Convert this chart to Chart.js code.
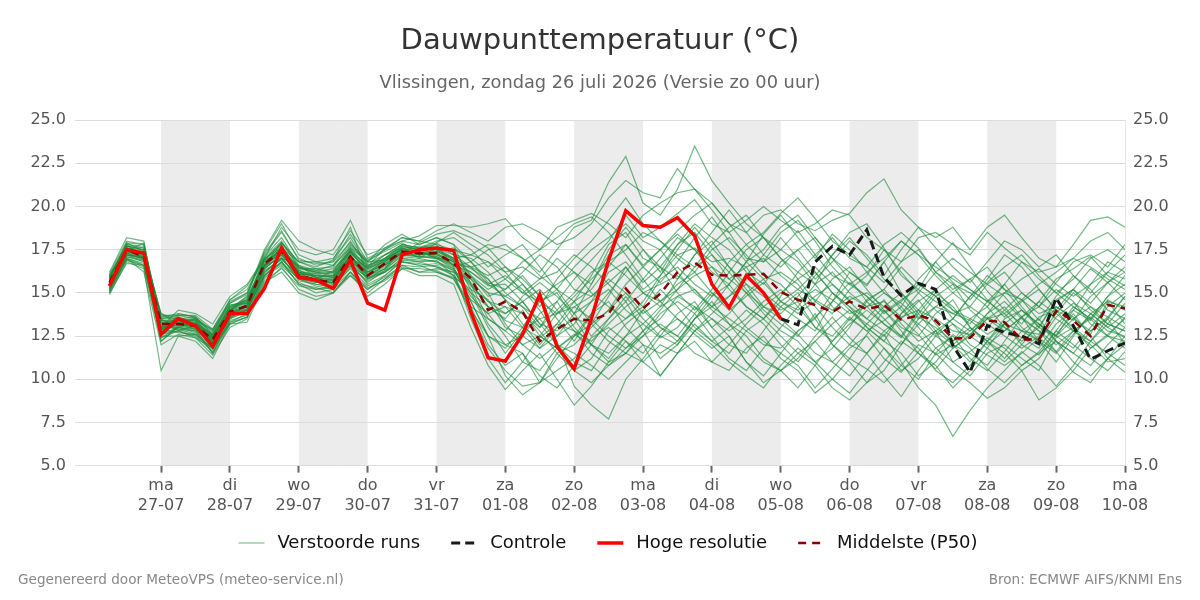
<!DOCTYPE html>
<html lang="nl">
<head>
<meta charset="utf-8">
<title>Dauwpunttemperatuur</title>
<script src="https://cdn.jsdelivr.net/npm/chart.js@4.4.1/dist/chart.umd.min.js"></script>
<style>
  html, body { margin: 0; padding: 0; background: #fff; }
  #wrap { position: relative; width: 1200px; height: 600px; }
</style>
</head>
<body>
<div id="wrap"><canvas id="dewChart"></canvas></div>
<script>
// tijdas in uren vanaf ma 27-07 00:00, een waarde per 6 uur
const firstHour = -18;
const stepHours = 6;
const axisMin = -30;
const axisMax = 336;

const dayNames = ["ma", "di", "wo", "do", "vr", "za", "zo", "ma", "di", "wo", "do", "vr", "za", "zo", "ma"];
const dayDates = ["27-07", "28-07", "29-07", "30-07", "31-07", "01-08", "02-08", "03-08", "04-08", "05-08", "06-08", "07-08", "08-08", "09-08", "10-08"];
const shadedDays = [0, 2, 4, 6, 8, 10, 12];

const hiresRun = [
  15.4, 17.5, 17.3, 12.6, 13.5, 13.1, 11.9, 13.8, 13.8, 15.25,
  17.6, 15.9, 15.75, 15.25, 16.9, 14.4, 14.0, 17.2, 17.5, 17.6,
  17.45, 13.9, 11.25, 11.05, 12.6, 14.9, 11.9, 10.6, 13.5, 16.9,
  19.75, 18.9, 18.8, 19.35, 18.3, 15.5, 14.15, 16.0, 15.0, 13.5
];

// controle-run is pas zichtbaar waar de hoge resolutie stopt
const controlStart = 39;
const controlRun = [
  13.5, 13.15, 16.8, 17.7, 17.2, 18.65, 15.9, 14.85, 15.55, 15.2,
  11.95, 10.4, 13.1, 12.7, 12.5, 12.05, 14.7, 13.1, 11.15, 11.65, 12.1
];

const medianRun = [
  15.6, 17.5, 17.1, 13.2, 13.2, 13.1, 12.3, 13.9, 14.25, 16.7,
  17.4, 16.0, 15.75, 15.6, 17.1, 16.0, 16.7, 17.4, 17.3, 17.3,
  16.7, 15.85, 14.0, 14.5, 13.9, 12.2, 12.9, 13.5, 13.4, 13.8,
  15.25, 14.1, 14.95, 16.2, 16.75, 16.05, 16.0, 16.05, 16.1, 15.05,
  14.6, 14.3, 13.9, 14.5, 14.05, 14.3, 13.45, 13.7, 13.4, 12.35,
  12.4, 13.4, 13.3, 12.3, 12.3, 13.95, 13.4, 12.5, 14.3, 14.1
];

const run01 = [15.9,17.8,17.6,12.8,13.5,13.4,12.0,14.2,14.6,17.0, 18.0,16.5,16.2,16.0,17.6,16.4,17.2,17.8,17.6,17.9, 17.2,17.0,16.2,15.0,14.2,13.0,14.5,15.8,16.9,18.0, 19.5,18.2,18.8,19.6,20.4,19.0,18.5,17.0,16.8,17.5, 18.6,17.2,16.0,15.5,14.8,13.9,14.6,15.2,16.8,17.9, 16.5,15.1,14.0,13.2,14.5,15.8,16.4,17.1,16.0,15.4];
const run02 = [15.2,17.2,16.8,13.5,12.9,12.6,11.8,13.5,14.0,16.2, 17.0,15.8,15.4,15.2,16.8,15.5,16.0,16.9,16.8,16.5, 16.0,14.2,12.0,10.8,11.5,9.8,10.5,11.2,12.4,13.0, 12.2,11.5,12.8,13.5,12.6,11.8,12.5,11.0,10.2,11.5, 10.8,9.5,10.6,11.8,12.5,11.2,10.4,11.6,12.8,11.0, 10.2,11.5,12.0,11.2,10.5,12.4,13.0,11.8,12.6,13.5];
const run03 = [15.7,17.6,17.3,13.0,13.0,13.3,12.5,14.0,14.4,16.9, 17.8,16.0,15.8,16.3,17.4,16.6,17.0,17.5,17.0,17.6, 17.0,16.5,15.5,16.0,15.2,14.0,12.5,13.8,15.5,17.5, 18.8,17.5,16.2,17.8,18.5,17.2,15.8,16.5,15.0,14.2, 13.5,12.8,14.5,16.2,15.4,16.8,15.0,13.8,12.6,13.5, 14.8,16.0,15.2,14.0,13.2,12.5,14.0,15.5,16.8,16.2];
const run04 = [16.1,18.0,17.8,12.5,13.8,13.6,12.8,14.4,15.0,17.2, 18.5,17.0,16.6,16.8,18.4,16.8,17.5,18.0,17.8,18.2, 17.8,15.5,13.5,12.8,14.0,12.5,11.8,12.5,13.2,14.8, 16.5,15.0,14.2,15.8,17.2,18.0,16.5,15.2,14.0,13.2, 12.5,13.8,12.0,11.2,12.6,14.0,12.8,11.5,10.8,9.5, 10.5,11.8,13.2,12.0,11.4,12.8,14.2,13.5,14.8,15.5];
const run05 = [15.4,17.3,17.0,13.3,13.4,13.0,12.2,13.7,14.1,16.4, 17.2,16.3,15.9,15.5,16.8,16.2,16.8,17.6,17.4,17.0, 16.5,16.8,17.5,17.8,17.0,16.2,17.5,18.8,19.2,21.4, 22.9,20.2,19.5,21.0,23.5,21.5,20.2,19.0,18.2,17.5, 16.8,15.5,17.2,18.5,19.0,17.6,16.0,15.2,14.5,13.8, 14.2,15.5,16.2,15.0,14.2,15.6,16.8,17.2,16.5,17.8];
const run06 = [15.0,16.9,16.5,12.2,13.0,12.8,11.5,13.2,13.6,15.8, 16.8,15.5,15.0,15.2,16.0,15.0,15.8,16.5,16.2,16.4, 16.2,13.5,11.2,9.8,11.0,12.5,11.8,10.5,11.2,12.8, 13.5,14.2,13.0,12.5,13.8,15.0,14.2,13.0,12.2,11.5, 12.8,13.5,15.0,14.2,13.0,12.2,13.8,14.6,13.2,12.0, 11.5,10.8,12.2,13.6,12.8,11.6,10.4,9.8,11.2,12.5];
const run07 = [15.8,17.9,17.4,13.6,13.6,13.2,12.6,14.1,14.8,17.4, 19.0,17.2,16.8,17.0,18.2,16.6,16.9,17.3,17.9,18.4, 18.6,18.2,17.6,16.5,15.5,14.2,15.8,17.0,18.0,19.2, 20.5,19.0,18.0,17.2,16.5,17.8,18.8,19.5,18.2,17.0, 15.8,14.5,13.8,15.2,16.0,17.5,16.2,15.0,14.0,13.2, 12.5,13.8,15.0,14.6,13.4,14.8,16.0,15.2,14.0,13.5];
const run08 = [15.5,17.4,17.2,13.2,13.1,12.9,12.0,13.6,14.0,16.0, 17.0,15.9,15.6,15.8,17.0,15.8,16.2,17.0,16.8,16.9, 16.0,15.0,13.0,11.5,12.8,13.5,12.2,9.6,8.5,7.7, 10.0,11.2,12.5,13.8,14.5,13.0,12.0,11.5,12.8,14.2, 15.0,13.5,12.0,11.0,9.8,10.5,12.0,13.2,12.5,11.8, 12.6,13.5,14.2,13.0,12.2,11.0,12.5,13.8,14.5,13.2];
const run09 = [16.0,17.7,17.5,12.9,13.3,13.5,12.7,14.3,14.5,16.6, 17.6,16.4,16.4,16.5,17.8,16.9,17.4,17.9,17.2,17.4, 17.6,16.8,15.8,14.6,13.2,12.0,13.2,14.5,15.2,16.5, 17.8,16.5,15.6,16.8,18.2,19.4,18.0,16.8,17.5,18.8, 19.5,18.2,17.0,16.2,15.5,16.8,18.0,17.2,16.0,15.0, 14.2,13.5,12.8,13.6,14.5,13.8,13.0,12.2,13.5,14.8];
const run10 = [15.3,17.1,16.9,13.4,13.2,13.1,12.4,13.8,14.2,16.3, 16.9,16.1,16.0,15.9,17.2,16.0,16.6,17.3,17.4,17.1, 16.6,15.4,14.5,14.2,13.8,12.8,11.5,12.0,13.0,14.0, 15.0,13.8,14.5,15.5,16.2,15.0,14.0,14.8,15.6,14.5, 14.0,14.8,15.5,14.5,13.5,14.6,13.2,12.2,12.8,13.5, 12.8,13.6,13.0,12.4,11.8,13.2,14.0,13.4,14.6,14.0];
const run11 = [15.6,17.5,17.0,12.6,13.0,12.7,11.9,13.9,14.3,16.8, 17.5,16.0,15.8,15.6,17.3,16.4,17.0,17.7,17.5,17.3, 16.8,15.6,14.2,13.5,14.8,15.6,14.8,13.8,14.5,16.2, 16.8,15.6,16.5,17.8,19.0,18.2,17.5,16.2,15.5,16.8, 17.5,16.2,15.0,14.2,13.5,12.8,12.0,13.5,14.8,15.5, 14.0,13.2,12.5,11.8,12.5,13.8,15.0,14.2,13.6,13.0];
const run12 = [14.9,16.8,16.4,10.5,12.5,12.2,11.2,13.2,13.3,15.5, 16.5,15.2,14.8,15.0,16.2,15.2,16.0,16.8,16.6,16.2, 15.8,14.0,12.5,12.0,11.5,10.2,9.5,10.8,12.0,13.5, 14.5,12.8,13.5,14.8,15.2,14.0,13.2,12.5,11.2,10.5, 11.5,12.2,11.0,10.2,11.5,12.6,11.0,9.5,8.5,6.7, 8.2,9.5,10.5,11.6,10.8,9.6,10.8,12.2,11.5,10.8];
const run13 = [15.6,17.6,17.3,13.8,13.4,13.4,12.9,14.6,15.2,16.9, 17.9,16.8,16.4,16.2,17.5,16.5,17.6,18.2,18.0,17.8, 17.5,17.2,16.8,15.8,15.0,14.5,15.2,16.5,17.5,18.2, 19.0,18.0,17.5,18.6,19.5,20.2,19.0,17.8,18.5,19.6, 20.5,19.3,18.0,17.2,16.5,15.6,16.8,17.5,16.2,15.5, 15.0,14.2,15.5,16.8,15.8,15.0,14.2,13.5,14.8,16.0];
const run14 = [15.2,17.0,16.6,12.4,12.8,12.5,11.6,13.3,13.8,16.1, 17.1,15.7,15.5,15.4,16.6,15.6,16.3,16.8,16.6,16.7, 16.3,14.8,13.8,12.5,11.0,10.5,11.8,12.6,12.0,11.5, 12.5,13.2,12.4,13.0,14.2,13.5,12.8,13.5,14.5,15.2, 14.2,13.0,12.5,13.6,12.8,13.4,14.2,13.0,11.8,11.0, 11.6,12.4,11.8,10.8,11.5,12.2,11.0,10.2,11.2,12.0];
const run15 = [15.9,17.6,17.5,13.1,13.6,13.3,12.1,14.0,14.5,17.1, 18.2,16.6,16.3,16.6,18.0,16.5,16.8,17.6,17.7,17.7, 17.4,16.0,14.8,15.2,16.2,17.2,16.5,15.2,14.8,15.8, 15.0,14.2,15.8,16.5,15.5,14.8,16.2,17.5,18.2,17.0, 16.2,15.5,14.2,13.4,14.6,15.2,14.0,13.2,14.2,15.0, 15.8,16.5,15.2,14.6,13.8,14.2,13.5,12.8,13.6,14.8];
const run16 = [15.4,17.3,17.0,13.5,13.5,13.2,12.5,14.2,14.6,16.6, 17.3,16.2,15.9,16.0,17.1,16.2,16.9,17.5,17.3,17.4, 16.9,15.2,13.2,12.0,12.5,11.8,13.0,14.2,13.5,12.5, 11.8,12.5,13.8,14.5,13.8,12.5,11.2,10.5,11.8,13.0, 14.2,15.5,16.2,15.0,14.2,13.2,12.5,14.0,15.2,14.0, 13.2,14.5,15.5,14.2,13.0,14.5,15.2,14.0,13.2,12.8];
const run17 = [16.2,18.2,18.0,13.0,14.0,13.8,13.2,14.8,15.5,17.0, 18.8,17.5,17.2,17.5,19.2,17.0,17.5,18.2,18.0,18.6, 19.0,18.5,18.0,18.8,19.0,18.5,17.8,18.2,19.0,20.5, 21.5,20.8,20.5,22.2,21.0,19.8,18.5,19.2,20.0,19.2, 18.5,19.0,19.8,19.5,18.2,17.5,16.8,18.2,18.5,17.8, 17.2,18.5,17.6,16.8,16.2,16.5,17.0,18.0,18.5,17.5];
const run18 = [15.1,17.0,16.7,12.9,12.7,12.6,11.7,13.4,13.7,15.9, 16.6,15.6,15.2,15.4,16.4,15.4,15.9,16.6,16.5,16.6, 16.0,13.8,11.8,10.5,9.6,9.8,11.2,12.5,13.8,14.5, 13.0,12.0,11.5,12.2,13.5,14.5,13.2,12.0,11.0,10.5, 9.5,10.8,9.5,8.8,9.8,11.0,12.2,11.5,10.6,11.8, 12.5,11.8,11.0,12.0,13.2,12.2,11.5,12.8,13.5,12.0];
const run19 = [15.7,17.5,17.2,13.3,13.2,13.0,12.3,13.9,14.2,16.5, 17.4,16.2,16.1,15.9,17.0,16.1,16.7,17.3,17.2,17.3, 16.6,16.2,15.5,14.8,14.2,13.5,13.8,14.2,14.8,15.6, 16.5,15.2,16.0,17.2,17.6,16.8,17.0,16.5,17.0,16.0, 15.2,14.6,14.0,14.8,14.2,14.5,13.6,14.0,13.5,12.8, 12.6,13.5,13.8,12.8,12.6,14.2,13.6,12.6,14.5,14.2];
const run20 = [15.5,17.2,17.1,12.2,13.1,13.2,12.6,13.6,14.0,16.2, 17.0,16.0,15.7,15.6,16.9,15.9,16.4,17.1,17.0,16.8, 16.4,15.0,14.2,13.8,14.5,13.2,12.8,13.5,13.2,14.0, 15.5,16.5,17.5,16.2,15.0,14.2,15.5,16.8,15.8,14.5, 13.8,14.5,15.8,16.5,15.2,14.0,13.0,12.5,13.8,14.6, 13.0,12.2,13.5,14.0,13.2,12.5,11.8,13.0,14.2,15.0];
const run21 = [15.8,17.7,17.6,13.7,13.7,13.5,12.8,14.4,14.9,17.3, 18.6,16.9,16.7,16.8,17.9,16.7,17.2,17.8,17.6,18.0, 18.2,17.5,16.5,17.2,17.8,16.5,15.2,14.5,16.0,17.8, 18.5,17.0,16.5,15.8,17.2,18.5,19.8,18.5,17.2,16.5, 17.5,18.2,17.0,15.8,14.5,15.2,16.5,15.5,14.8,13.5, 14.8,15.6,16.5,17.2,16.0,15.0,15.8,17.0,17.5,16.8];
const run22 = [15.3,17.2,17.0,13.1,12.9,12.8,12.1,13.6,14.1,16.0, 16.8,15.8,15.5,15.3,16.5,15.7,16.2,16.8,16.7,16.5, 16.2,15.8,15.0,13.2,12.0,11.2,12.0,11.5,10.8,10.0, 11.0,12.0,10.2,11.5,12.8,13.5,12.5,11.0,9.8,10.5, 11.2,12.5,13.6,12.4,11.5,10.2,9.0,10.5,11.8,12.5, 11.2,10.5,11.6,12.8,13.5,12.2,11.5,10.8,12.0,13.0];
const run23 = [16.0,17.8,17.7,12.7,13.4,13.5,12.4,14.3,14.4,16.9, 17.9,16.5,16.1,16.2,17.7,16.8,16.9,17.7,17.5,17.5, 17.0,16.0,15.2,15.8,16.8,17.5,18.2,19.0,19.4,18.5, 17.2,15.8,14.5,13.5,12.8,13.8,14.8,16.0,17.2,18.5, 19.2,18.0,16.5,15.5,16.2,17.0,18.0,17.2,16.5,15.8, 15.2,14.5,13.8,14.6,15.5,16.2,17.0,16.5,15.8,15.2];
const run24 = [15.5,17.4,17.0,12.4,13.0,12.9,11.5,13.5,13.9,16.4, 17.2,16.1,15.7,15.7,16.8,15.8,16.3,17.2,17.1,17.0, 16.4,14.5,12.5,10.2,9.1,9.8,11.5,10.5,9.8,10.8, 11.8,12.8,11.2,12.0,13.2,12.2,11.5,12.8,13.5,12.5, 11.5,10.8,12.2,13.5,12.8,11.8,10.5,11.2,12.5,13.2, 12.0,11.4,10.8,11.5,12.4,11.6,12.8,13.5,12.5,11.8];
const run25 = [15.6,17.6,17.3,13.4,13.3,13.4,12.2,14.0,14.7,16.7, 17.6,16.5,16.2,16.4,17.4,16.3,17.0,17.5,17.6,17.6, 17.2,16.5,16.0,16.5,15.8,14.8,15.5,16.2,15.0,14.2, 13.5,14.5,16.0,17.5,18.8,17.6,16.5,15.5,14.2,13.8, 14.8,16.0,17.2,18.2,17.0,15.8,14.8,13.6,13.0,12.2, 13.5,14.2,13.0,12.2,13.0,14.6,15.2,14.4,15.6,16.5];
const run26 = [15.4,17.1,16.8,12.9,13.2,13.0,12.2,13.7,14.0,16.0, 16.7,15.8,15.6,15.6,16.6,15.9,16.2,17.0,16.9,16.8, 16.3,14.6,13.8,14.2,13.0,11.8,12.5,13.2,14.5,15.2, 14.0,13.2,14.2,14.8,14.2,13.0,13.8,15.0,15.8,16.2, 15.5,14.2,13.0,12.0,11.5,12.8,13.5,12.6,11.4,12.0, 12.8,13.8,14.5,13.5,12.8,12.0,12.8,13.6,12.8,12.5];
const run27 = [15.9,17.9,17.8,13.5,13.7,13.7,12.9,14.5,15.0,17.5, 19.2,18.0,17.5,17.2,18.6,17.2,17.6,18.0,18.3,18.9, 18.9,18.8,19.0,19.3,18.2,17.5,18.8,19.2,19.6,19.0, 18.2,19.5,20.2,20.8,21.0,20.2,19.0,18.5,19.5,19.8, 19.0,18.6,19.2,19.6,20.8,21.6,19.8,18.8,18.2,18.8, 17.5,18.8,19.5,18.2,17.0,16.5,17.8,19.2,19.4,18.8];
const run28 = [15.2,16.9,16.6,12.6,12.8,12.4,11.8,13.3,13.6,15.7, 16.4,15.4,15.2,15.3,16.2,15.3,15.7,16.4,16.4,16.3, 15.8,14.2,13.5,12.8,12.0,12.5,13.8,14.5,13.2,12.2, 11.5,11.0,10.2,11.5,12.2,11.0,10.5,11.8,12.5,11.2, 10.5,9.2,10.0,11.2,10.6,9.8,10.8,12.0,11.5,10.5, 9.8,8.9,9.5,10.5,8.8,9.5,10.5,11.8,12.5,12.2];
const run29 = [15.7,17.6,17.4,12.9,13.3,13.1,12.4,14.1,14.5,16.8, 17.7,16.3,16.0,15.9,17.1,16.2,16.7,17.4,17.3,17.5, 16.9,16.4,15.8,14.6,13.8,13.0,14.0,15.0,16.2,16.8, 17.5,18.5,18.0,17.0,16.2,17.5,18.2,17.2,16.0,15.5, 14.5,13.0,12.2,13.2,14.0,13.2,12.4,13.8,15.0,14.2, 13.0,12.0,12.8,13.6,12.2,11.5,12.6,13.8,13.0,12.4];
const run30 = [15.4,17.3,16.9,13.0,13.1,13.2,12.3,13.8,14.2,16.4, 17.2,16.1,15.8,15.8,17.0,16.0,16.5,17.2,17.1,17.1, 16.7,15.5,14.2,13.4,13.0,12.4,13.2,12.8,12.2,13.2, 14.2,15.0,14.5,15.2,16.0,16.5,15.8,15.0,14.2,15.0, 15.8,16.5,15.5,14.6,15.0,14.2,13.5,14.5,15.2,16.0, 15.2,14.5,15.0,15.8,16.4,15.5,14.8,15.5,16.2,15.8];
const run31 = [15.8,17.4,17.9,12.9,13.6,13.0,12.5,14.0,14.8,16.6, 17.9,16.8,16.5,16.9,18.8,16.0,16.4,17.6,17.2,17.9, 18.5,17.8,17.2,16.2,15.0,15.8,17.0,16.2,15.5,17.2, 17.8,16.6,17.5,18.4,17.5,16.2,15.5,16.8,18.4,19.5, 18.2,17.0,18.4,17.5,16.2,15.0,14.2,15.8,16.8,15.6, 14.6,15.8,17.2,16.5,15.2,14.0,15.2,16.4,15.6,14.6];
const run32 = [15.1,17.0,16.2,12.0,12.6,12.4,11.4,13.0,13.5,15.6, 16.2,15.0,14.6,15.0,16.2,14.8,15.5,16.4,16.0,16.0, 15.5,13.0,10.8,9.4,10.5,11.5,10.0,8.5,9.6,11.0, 12.2,11.0,12.0,11.5,12.8,12.0,11.0,10.2,9.5,10.8, 11.8,11.0,10.0,9.2,10.5,11.8,10.8,10.0,11.5,12.6, 11.8,10.6,9.8,10.8,11.6,12.8,12.0,11.2,10.5,11.6];
const run33 = [15.6,17.8,17.0,13.6,13.8,13.6,12.6,14.6,15.4,17.0, 17.6,16.8,16.8,16.6,17.6,16.8,17.8,18.4,17.8,18.2, 17.8,16.8,15.6,15.2,16.0,14.8,13.5,12.2,13.8,15.0, 16.2,17.5,16.5,15.0,14.0,15.2,16.8,17.8,16.8,18.2, 17.0,15.8,16.8,18.0,17.2,16.0,17.5,18.8,17.6,16.5, 15.6,16.8,18.0,17.5,16.5,17.2,16.0,15.0,16.2,17.2];
const run34 = [15.0,16.7,16.6,12.5,12.5,12.6,11.8,13.2,13.6,16.0, 16.8,15.5,15.3,15.0,16.0,15.2,15.8,16.6,16.2,16.2, 15.9,15.2,14.6,13.0,12.5,13.8,14.5,13.0,12.0,11.2, 12.5,14.0,15.2,14.2,13.0,12.2,13.0,14.0,13.2,12.0, 11.0,12.2,13.2,14.0,13.0,12.2,11.5,10.2,11.0,12.2, 13.0,12.2,11.2,12.4,13.6,14.0,12.8,12.0,11.0,11.2];
const run35 = [16.0,17.6,17.2,13.0,13.5,13.6,12.5,14.0,14.6,16.5, 17.4,16.5,16.3,16.2,17.0,16.5,17.2,17.6,17.2,17.4, 17.0,17.2,17.8,17.5,17.0,16.0,15.2,13.8,12.5,13.5, 14.8,13.5,12.5,12.0,13.5,14.8,15.5,14.2,13.5,14.8, 16.2,17.2,18.2,17.0,16.5,17.8,18.5,17.6,16.2,15.2, 15.8,14.6,13.6,14.5,15.2,14.0,13.4,14.8,15.6,16.2];
const run36 = [15.5,17.3,17.4,13.8,13.2,13.5,12.2,14.0,14.0,16.6, 17.0,16.6,15.9,15.7,17.5,16.0,17.0,17.8,17.6,17.8, 16.5,14.5,12.5,11.8,13.0,14.5,15.0,13.5,12.0,11.0, 11.5,12.5,13.2,12.5,11.5,11.0,12.0,13.2,14.2,13.5, 12.6,11.5,11.0,12.0,13.2,14.2,15.0,14.0,12.8,12.0, 11.0,12.2,13.2,14.0,13.0,12.5,13.5,14.2,13.2,12.8];
const run37 = [15.3,17.5,17.1,12.7,13.2,12.9,12.1,13.5,14.4,16.5, 17.6,16.2,15.6,15.5,17.2,15.8,16.4,17.4,17.4,17.0, 16.6,16.5,16.8,16.2,16.5,15.8,16.2,17.2,16.5,15.5, 14.5,15.8,17.0,18.2,17.5,16.5,15.2,14.2,13.5,14.5, 15.2,16.2,15.0,14.0,13.2,12.5,13.8,15.0,16.2,17.0, 16.2,15.5,14.8,13.6,14.2,15.2,14.5,13.2,12.5,13.6];
const run38 = [15.8,17.7,17.5,13.4,13.4,13.3,12.6,14.2,14.4,16.6, 17.5,16.4,16.2,16.1,17.3,16.4,16.8,17.4,17.3,17.2, 16.8,15.8,14.5,13.8,14.5,15.2,14.0,12.8,11.5,10.8, 11.5,12.8,14.0,15.2,16.5,17.2,16.2,15.0,13.8,12.8, 12.2,11.0,11.8,13.0,14.5,13.5,12.5,11.8,10.5,9.8, 10.8,12.2,11.5,10.5,11.2,12.6,13.8,12.5,11.2,10.4];
const run39 = [15.4,17.2,17.0,13.0,13.3,13.0,12.2,13.8,14.2,16.6, 17.6,16.2,15.9,15.8,17.1,16.0,16.6,17.3,17.2,17.2, 16.8,15.9,15.0,14.8,15.5,14.5,13.8,14.8,15.8,16.8, 16.0,15.0,15.5,16.0,15.2,14.2,14.8,15.5,14.8,14.0, 14.5,15.2,14.6,13.8,14.2,15.0,14.4,13.5,14.2,13.8, 13.4,12.6,13.2,12.8,12.2,13.6,14.4,13.8,13.0,13.8];
const run40 = [15.6,17.4,17.1,13.3,12.8,13.1,12.4,14.0,14.3,16.9, 17.3,16.1,16.0,16.0,17.4,16.2,16.6,17.3,17.1,17.0, 16.9,16.2,15.4,15.5,14.5,13.2,12.0,11.0,10.5,12.0, 13.2,14.0,13.0,12.2,13.5,14.2,13.5,12.8,12.0,11.8, 12.8,13.6,14.5,15.6,14.8,13.8,14.5,15.5,14.8,14.0, 13.5,13.0,14.0,15.0,14.2,13.5,12.8,12.2,13.2,14.4];

const perturbedRuns = [
  run01, run02, run03, run04, run05, run06, run07, run08, run09, run10,
  run11, run12, run13, run14, run15, run16, run17, run18, run19, run20,
  run21, run22, run23, run24, run25, run26, run27, run28, run29, run30,
  run31, run32, run33, run34, run35, run36, run37, run38, run39, run40
];

const legendOrder = ["Verstoorde runs", "Controle", "Hoge resolutie", "Middelste (P50)"];

function toPoints(values, startIdx = 0) {
  return values.map((v, i) => ({ x: firstHour + (startIdx + i) * stepHours, y: v }));
}

// lijntje voor de legenda; lege ruimte links geeft afstand tussen de items
function legendLine(color, width, dash) {
  const c = document.createElement("canvas");
  c.width = 46;
  c.height = 8;
  const g = c.getContext("2d");
  g.strokeStyle = color;
  g.lineWidth = width;
  g.setLineDash(dash);
  g.beginPath();
  g.moveTo(16, 4);
  g.lineTo(42, 4);
  g.stroke();
  return c;
}

Chart.defaults.font.family = "'DejaVu Sans', sans-serif";
Chart.defaults.color = "#555";

// grijze banden om de dag
const dayBands = {
  id: "dayBands",
  beforeDraw(chart) {
    const { ctx, chartArea, scales } = chart;
    ctx.save();
    ctx.fillStyle = "#ececec";
    shadedDays.forEach(d => {
      const x0 = scales.x.getPixelForValue(d * 24);
      const x1 = scales.x.getPixelForValue((d + 1) * 24);
      ctx.fillRect(x0, chartArea.top, x1 - x0, chartArea.bottom - chartArea.top);
    });
    ctx.restore();
  }
};

const footer = {
  id: "footer",
  afterDraw(chart) {
    const ctx = chart.ctx;
    ctx.save();
    ctx.font = "13.6px 'DejaVu Sans', sans-serif";
    ctx.fillStyle = "#888";
    ctx.textBaseline = "middle";
    ctx.textAlign = "left";
    ctx.fillText("Gegenereerd door MeteoVPS (meteo-service.nl)", 18, chart.height - 20);
    ctx.textAlign = "right";
    ctx.fillText("Bron: ECMWF AIFS/KNMI Ens", chart.width - 18, chart.height - 20);
    ctx.restore();
  }
};

const ensColor = "rgba(30, 140, 60, 0.62)";
const ensembleSets = perturbedRuns.map((run, i) => ({
  label: i === 0 ? "Verstoorde runs" : "",
  data: toPoints(run),
  borderColor: ensColor,
  borderWidth: 1.2,
  pointRadius: 0,
  pointStyle: legendLine("rgba(40, 160, 70, 0.6)", 1.2, []),
  order: 4
}));

const datasets = [
  {
    label: "Hoge resolutie",
    data: toPoints(hiresRun),
    borderColor: "#ff0000",
    borderWidth: 3.5,
    pointRadius: 0,
    pointStyle: legendLine("#ff0000", 3.5, []),
    order: 0
  },
  {
    label: "Middelste (P50)",
    data: toPoints(medianRun),
    borderColor: "#8b0000",
    borderWidth: 2.5,
    borderDash: [8, 6],
    pointRadius: 0,
    pointStyle: legendLine("#8b0000", 2.5, [8, 6]),
    order: 1
  },
  {
    label: "Controle",
    data: toPoints(controlRun, controlStart),
    borderColor: "#1a1a1a",
    borderWidth: 3,
    borderDash: [9, 5],
    pointRadius: 0,
    pointStyle: legendLine("#1a1a1a", 3, [9, 5]),
    order: 2
  }
].concat(ensembleSets);

const ctx = document.getElementById("dewChart").getContext("2d");
new Chart(ctx, {
  type: "line",
  data: { datasets: datasets },
  plugins: [dayBands, footer],
  options: {
    responsive: true,
    maintainAspectRatio: false,
    animation: false,
    layout: { padding: { left: 0, right: 0, top: 0, bottom: 38 } },
    elements: { line: { tension: 0 } },
    plugins: {
      title: {
        display: true,
        text: "Dauwpunttemperatuur (°C)",
        color: "#333",
        font: { size: 29, weight: "normal" },
        padding: { top: 24, bottom: 8 }
      },
      subtitle: {
        display: true,
        text: "Vlissingen, zondag 26 juli 2026 (Versie zo 00 uur)",
        color: "#666",
        font: { size: 17.8 },
        padding: { top: 6, bottom: 26 }
      },
      legend: {
        position: "bottom",
        labels: {
          color: "#111",
          font: { size: 18 },
          usePointStyle: true,
          pointStyleWidth: 46,
          padding: 15,
          filter: item => item.text !== "",
          sort: (a, b) => legendOrder.indexOf(a.text) - legendOrder.indexOf(b.text)
        }
      },
      tooltip: { enabled: false }
    },
    scales: {
      x: {
        type: "linear",
        min: axisMin,
        max: axisMax,
        afterBuildTicks: scale => {
          scale.ticks = dayNames.map((_, i) => ({ value: i * 24 }));
        },
        ticks: {
          autoSkip: false,
          maxRotation: 0,
          padding: 4,
          color: "#555",
          font: { size: 16 },
          callback: (v, i) => [dayNames[i], dayDates[i]]
        },
        grid: { drawOnChartArea: false, tickLength: 7, tickColor: "#666", tickWidth: 2 },
        border: { display: false }
      },
      y: {
        position: "left",
        min: 5,
        max: 25,
        afterFit: scale => { scale.width = 75; },
        ticks: {
          stepSize: 2.5,
          padding: 9,
          color: "#555",
          font: { size: 16 },
          callback: v => v.toFixed(1)
        },
        grid: { color: "#dcdcdc", drawTicks: false },
        border: { display: false }
      },
      y2: {
        position: "right",
        min: 5,
        max: 25,
        afterFit: scale => { scale.width = 75; },
        ticks: {
          stepSize: 2.5,
          padding: 8,
          color: "#555",
          font: { size: 16 },
          callback: v => v.toFixed(1)
        },
        grid: { drawOnChartArea: false, drawTicks: false },
        border: { display: true, color: "#e6e6e6" }
      }
    }
  }
});
</script>
</body>
</html>
